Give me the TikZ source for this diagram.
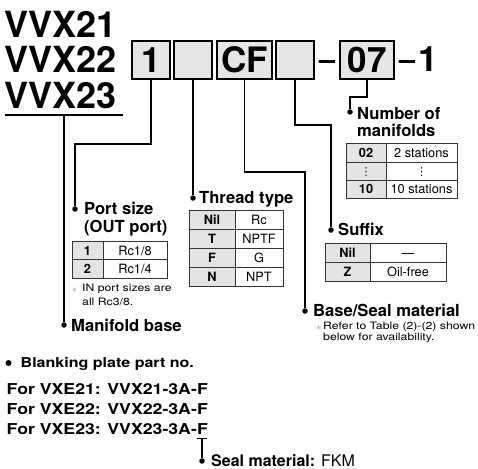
\documentclass[tikz,border=0pt]{standalone}
\usepackage{fontspec}
\setmainfont{TeX Gyre Heros}
\newfontfamily\widefont[FakeStretch=1.18]{TeX Gyre Heros}
\newfontfamily\notefont[FakeStretch=1.2]{TeX Gyre Heros}
\newfontfamily\dejavu{DejaVu Sans}
\definecolor{boxgray}{HTML}{E6E6E6}
\definecolor{cellgray}{HTML}{E4E4E4}
\definecolor{rulecol}{HTML}{333333}
\begin{document}
\begin{tikzpicture}[x=1pt,y=-1pt,
  txt/.style={inner sep=0pt, anchor=base west},
  big/.style={txt, font=\fontsize{36}{36}\selectfont\bfseries},
  head/.style={txt, font=\fontsize{16.6}{18}\selectfont\bfseries},
  code/.style={draw=black, line width=1.4pt, fill=boxgray, minimum height=38pt, inner sep=0pt, font=\fontsize{35}{35}\selectfont\bfseries},
  conn/.style={line width=1.3pt},
  dotnode/.style={circle, fill=black, inner sep=0pt, minimum size=5.5pt},
  cell/.style={inner sep=0pt, anchor=base, font=\fontsize{12.8}{14}\selectfont},
  cellb/.style={inner sep=0pt, anchor=base, font=\fontsize{12.8}{14}\selectfont\bfseries},
  vdot/.style={inner sep=0pt, anchor=base, font=\dejavu\fontsize{11}{12}\selectfont},
  tab/.style={draw=rulecol, line width=0.9pt},
  note/.style={txt, font=\notefont\fontsize{10.2}{12}\selectfont},
  ast/.style={txt, text=gray, font=\fontsize{10}{12}\selectfont},
  wide/.style={txt, font=\widefont\fontsize{15}{16}\selectfont\bfseries}
]
\useasboundingbox (0,0) rectangle (478,468);

% title
\node[big] (t1) at (4,37.5) {VVX21};
\node[big] (t2) at (4,73) {VVX22};
\node[big] (t3) at (4,108.5) {VVX23};
\coordinate (ulL) at (5,115);
\coordinate (ulR) at (123,115);
\draw[conn] (ulL) -- (ulR);

% code boxes
\node[code, minimum width=38pt] (b1) at (151,60) {1};
\node[code, minimum width=38pt] (b2) at (193,60) {};
\node[code, minimum width=55pt] (bCF) at (244.5,60) {CF};
\node[code, minimum width=38pt] (b4) at (295,60) {};
\node[code, minimum width=54pt] (b07) at (367,60) {07};
\node[txt, font=\fontsize{29}{29}\selectfont\bfseries] (d1) at (319,70) {–};
\node[txt, font=\fontsize{29}{29}\selectfont\bfseries] (d2) at (399,70) {–};
\node[big, font=\fontsize{35}{35}\selectfont\bfseries] (last) at (418,72) {1};

% bullets
\node[dotnode] (mbdot) at (64,325) {};
\node[dotnode] (psdot) at (75,209) {};
\node[dotnode] (tdot) at (193,198) {};
\node[dotnode] (bsdot) at (305,311) {};
\node[dotnode] (sfdot) at (331,230) {};
\node[dotnode] (nmdot) at (350,112) {};

% connectors
\draw[conn] (mbdot |- ulL) -- (mbdot);
\draw[conn] (b1.south) -- (b1.south |- 0,144) -| (psdot);
\draw[conn] (b2.south) -- (tdot);
\draw[conn] (bCF.south) -- (bCF.south |- 0,172) -| (bsdot);
\draw[conn] (b4.south) -- (b4.south |- 0,125) -| (sfdot);
\draw[conn] (b07.south) -- (b07.south |- 0,97) -| (nmdot);

% headings
\node[head] (hnum1) at (357,119) {Number of};
\node[head] (hnum2) at (357,136) {manifolds};
\node[head] (hport1) at (84,214.5) {Port size};
\node[head] (hport2) at (84,232.5) {(OUT port)};
\node[head] (hthread) at (199,203.5) {Thread type};
\node[head] (hsuffix) at (338,235.5) {Suffix};
\node[head] (hbase) at (313,316.5) {Base/Seal material};
\node[head] (hmb) at (71,331) {Manifold base};

% manifolds table
\fill[cellgray] (346,143) rectangle (386,198);
\draw[tab] (346,143) rectangle (457,198);
\draw[tab] (386,143) -- (386,198) (346,162) -- (457,162) (346,180) -- (457,180);
\node[cellb] (m11) at (366,157) {02};
\node[cell] (m12) at (421.5,157) {2 stations};
\node[vdot] (m21) at (366,175.5) {⋮};
\node[vdot] (m22) at (421.5,175.5) {⋮};
\node[cellb] (m31) at (366,193.5) {10};
\node[cell] (m32) at (421.5,193.5) {10 stations};

% port table
\fill[cellgray] (72,241) rectangle (103,278);
\draw[tab] (72,241) rectangle (167,278);
\draw[tab] (103,241) -- (103,278) (72,259.5) -- (167,259.5);
\node[cellb] (p11) at (87.5,255) {1};
\node[cell] (p12) at (135,255) {Rc1/8};
\node[cellb] (p21) at (87.5,273.5) {2};
\node[cell] (p22) at (135,273.5) {Rc1/4};
\node[ast] (pa) at (72,292) {$\ast$};
\node[note] (pn1) at (82,291.5) {IN port sizes are};
\node[note] (pn2) at (82,305) {all Rc3/8.};

% thread table
\fill[cellgray] (189,210) rectangle (235,286);
\draw[tab] (189,210) rectangle (283,286);
\draw[tab] (235,210) -- (235,286) (189,229) -- (283,229) (189,248) -- (283,248) (189,267) -- (283,267);
\node[cellb] (th11) at (212,224) {Nil};
\node[cell] (th12) at (259,224) {Rc};
\node[cellb] (th21) at (212,243) {T};
\node[cell] (th22) at (259,243) {NPTF};
\node[cellb] (th31) at (212,262) {F};
\node[cell] (th32) at (259,262) {G};
\node[cellb] (th41) at (212,281) {N};
\node[cell] (th42) at (259,281) {NPT};

% suffix table
\fill[cellgray] (325,243) rectangle (370,281);
\draw[tab] (325,243) rectangle (446,281);
\draw[tab] (370,243) -- (370,281) (325,262) -- (446,262);
\node[cellb] (s11) at (347.5,257) {Nil};
\node[cell] (s12) at (408,257) {—};
\node[cellb] (s21) at (347.5,276) {Z};
\node[cell] (s22) at (408,276) {Oil-free};

% base/seal note
\node[ast] (ba) at (316,330) {$\ast$};
\node[note] (bn1) at (323,329.5) {Refer to Table (2)-(2) shown};
\node[note] (bn2) at (323,340.5) {below for availability.};

% blanking plate
\node[dotnode, minimum size=6pt] (bpdot) at (8.5,363) {};
\node[wide, font=\widefont\fontsize{13.6}{15}\selectfont\bfseries] (bp) at (20.5,367.5) {Blanking plate part no.};
\node[wide] (f1) at (6.5,394) {For VXE21: VVX21-3A-F};
\node[wide] (f2) at (6.5,414) {For VXE22: VVX22-3A-F};
\node[wide] (f3) at (6.5,434) {For VXE23: VVX23-3A-F};
\coordinate (tL) at (197,438.5);
\coordinate (tR) at (207,438.5);
\coordinate (tM) at (202,438.5);
\node[dotnode] (sdot) at (202,461) {};
\draw[conn] (tL) -- (tR);
\draw[conn] (tM) -- (sdot);
\node[txt, font=\fontsize{16}{18}\selectfont] (seal) at (211,466) {\textbf{Seal material:} FKM};
\end{tikzpicture}
\end{document}
